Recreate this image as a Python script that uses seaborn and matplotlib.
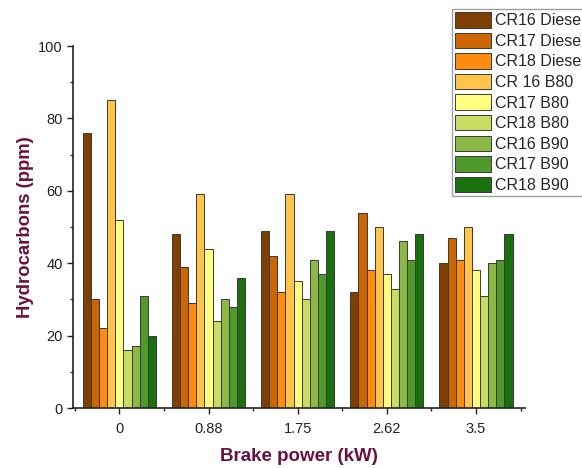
import matplotlib
matplotlib.use("Agg")
import matplotlib.pyplot as plt
from matplotlib.ticker import FixedLocator, MultipleLocator
import numpy as np
import pandas as pd
import seaborn as sns

brake_power = ["0", "0.88", "1.75", "2.62", "3.5"]
series_names = ["CR16 Diesel", "CR17 Diesel", "CR18 Diesel", "CR 16 B80", "CR17 B80",
                "CR18 B80", "CR16 B90", "CR17 B90", "CR18 B90"]
cr16_diesel = [76, 48, 49, 32, 40]
cr17_diesel = [30, 39, 42, 54, 47]
cr18_diesel = [22, 29, 32, 38, 41]
cr16_b80 = [85, 59, 59, 50, 50]
cr17_b80 = [52, 44, 35, 37, 38]
cr18_b80 = [16, 24, 30, 33, 31]
cr16_b90 = [17, 30, 41, 46, 40]
cr17_b90 = [31, 28, 37, 41, 41]
cr18_b90 = [20, 36, 49, 48, 48]

colors = ["#7f3f00", "#cc6600", "#ff8c10", "#ffc44a", "#ffff80",
          "#c8dc64", "#8cb946", "#4e9a2a", "#1a700c"]

values = [cr16_diesel, cr17_diesel, cr18_diesel, cr16_b80, cr17_b80,
          cr18_b80, cr16_b90, cr17_b90, cr18_b90]
rows = []
for name, vals in zip(series_names, values):
    for bp, v in zip(brake_power, vals):
        rows.append({"power": bp, "series": name, "hc": v})
df = pd.DataFrame(rows)

sns.set_style("ticks")
plt.rcParams["font.family"] = ["Liberation Sans", "DejaVu Sans"]

fig = plt.figure(figsize=(5.82, 4.68), dpi=100)
ax = fig.add_axes([73 / 582, 1 - 408 / 468, (525 - 73) / 582, (408 - 46) / 468])

sns.barplot(data=df, x="power", y="hc", hue="series", order=brake_power,
            hue_order=series_names, palette=colors, width=0.82,
            edgecolor="#3a3a3a", linewidth=0.7, saturation=1, ax=ax, legend=True)

ax.set_xlim(-0.52, 4.55)
ax.set_ylim(0, 100)
ax.yaxis.set_major_locator(MultipleLocator(20))
ax.yaxis.set_minor_locator(MultipleLocator(10))
ax.xaxis.set_minor_locator(FixedLocator(np.arange(-0.5, 5, 1.0)))
ax.tick_params(axis="both", which="major", direction="out", length=4, width=1,
               labelsize=10.5, colors="#222222")
ax.tick_params(axis="x", which="major", pad=6)
ax.tick_params(axis="both", which="minor", direction="out", length=2.5, width=1,
               colors="#222222")
for side in ["top", "right"]:
    ax.spines[side].set_visible(False)
for side in ["left", "bottom"]:
    ax.spines[side].set_linewidth(1.2)
    ax.spines[side].set_color("#222222")

label_color = "#6b1042"
ax.set_xlabel("Brake power (kW)", fontsize=13.5, fontweight="bold", color=label_color, labelpad=9)
ax.set_ylabel("Hydrocarbons (ppm)", fontsize=13.3, fontweight="bold", color=label_color, labelpad=3)

# legend sits partly past the right edge, as in the original figure
handles, labels = ax.get_legend_handles_labels()
ax.get_legend().remove()
leg = fig.legend(handles, labels, loc="upper left", bbox_to_anchor=(452 / 582, 1 - 9 / 468),
                 fontsize=11.5, frameon=True, fancybox=False, borderpad=0.2,
                 labelspacing=0.28, handlelength=2.25, handleheight=1.1,
                 handletextpad=0.25, borderaxespad=0)
leg.get_frame().set_edgecolor("#888888")
leg.get_frame().set_linewidth(1.0)

fig.savefig("out.png", dpi=100)
plt.close(fig)
